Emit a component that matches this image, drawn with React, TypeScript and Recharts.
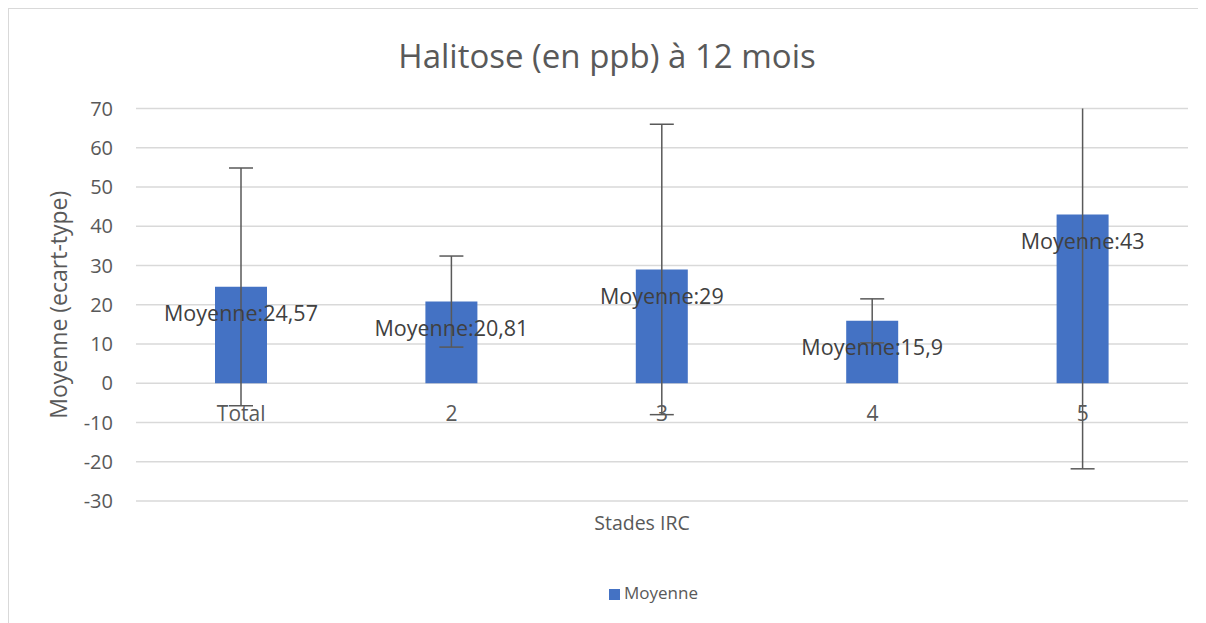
import React from "react";
import {
  BarChart,
  Bar,
  XAxis,
  YAxis,
  CartesianGrid,
  ErrorBar,
  LabelList,
  Legend,
} from "recharts";

// values
const stades = ["Total", "2", "3", "4", "5"];
const moyennes = [24.57, 20.81, 29, 15.9, 43];
const ecartTypes = [30.3, 11.6, 37, 5.6, 64.8];
const yTicks = [-30, -20, -10, 0, 10, 20, 30, 40, 50, 60, 70];

const Y_MIN = -30;
const Y_MAX = 70;
const W = 1196;
const H = 612;
const M = { top: 99.5, right: 17, left: 0, bottom: 30 };
const Y_AXIS_W = 127;
const X_AXIS_H = 60;
const LEGEND_H = 30;
const PLOT_H = H - M.top - M.bottom - X_AXIS_H - LEGEND_H;
const TEXT = "#595959";
const FONT = "'Open Sans', sans-serif";

const data = stades.map((name, i) => ({
  name,
  moyenne: moyennes[i],
  sd: ecartTypes[i],
}));

const fmt = (v: any) => `Moyenne:${String(v).replace(".", ",")}`;

// Excel puts the category labels next to the zero line, not at the bottom
const CategoryTick = (props: any) => {
  const { x, y, payload } = props;
  const zeroY = y - (PLOT_H * (0 - Y_MIN)) / (Y_MAX - Y_MIN);
  return (
    <text x={x} y={zeroY + 38} textAnchor="middle" fill={TEXT} fontSize={21}>
      {payload.value}
    </text>
  );
};

export default function App() {
  return (
    <div
      style={{
        position: "relative",
        width: W,
        height: 620,
        border: "1px solid #d9d9d9",
        fontFamily: FONT,
        background: "#fff",
      }}
    >
      {/* error bars are cut at the plot edge, as in Excel */}
      <style>{`.recharts-errorBar { clip-path: url(#plot-clip); }`}</style>
      <svg width={0} height={0} style={{ position: "absolute" }}>
        <defs>
          <clipPath id="plot-clip">
            <rect
              x={Y_AXIS_W}
              y={M.top}
              width={W - Y_AXIS_W - M.right}
              height={PLOT_H}
            />
          </clipPath>
        </defs>
      </svg>
      <div
        style={{
          position: "absolute",
          top: 24,
          left: 0,
          width: "100%",
          textAlign: "center",
          fontSize: 33,
          color: TEXT,
        }}
      >
        Halitose (en ppb) à 12 mois
      </div>
      <BarChart width={W} height={H} data={data} margin={M} barSize={52}>
        <CartesianGrid vertical={false} stroke="#d9d9d9" strokeWidth={1.5} />
        <XAxis
          dataKey="name"
          axisLine={false}
          tickLine={false}
          tickSize={0}
          tickMargin={0}
          height={X_AXIS_H}
          tick={<CategoryTick />}
          label={{
            value: "Stades IRC",
            position: "insideTop",
            offset: 15,
            dx: -20,
            fill: TEXT,
            fontSize: 19.5,
          }}
        />
        <YAxis
          width={Y_AXIS_W}
          domain={[Y_MIN, Y_MAX]}
          ticks={yTicks}
          allowDataOverflow
          axisLine={false}
          tickLine={false}
          tickSize={0}
          tickMargin={23}
          tick={{ fill: TEXT, fontSize: 20 }}
          label={{
            value: "Moyenne (ecart-type)",
            angle: -90,
            position: "center",
            dx: -14,
            fill: TEXT,
            fontSize: 23,
          }}
        />
        <Legend
          verticalAlign="bottom"
          height={LEGEND_H}
          iconType="square"
          iconSize={11}
          wrapperStyle={{ top: 572, left: 93, width: 1113 }}
          formatter={(v: any) => (
            <span style={{ color: TEXT, fontSize: 17 }}>{v}</span>
          )}
        />
        <Bar
          dataKey="moyenne"
          name="Moyenne"
          fill="#4472c4"
          isAnimationActive={false}
        >
          <ErrorBar
            dataKey="sd"
            width={12}
            stroke="#595959"
            strokeWidth={1.5}
            isAnimationActive={false}
          />
          <LabelList
            dataKey="moyenne"
            position="insideTop"
            offset={19}
            formatter={fmt}
            fill="#404040"
            fontSize={21.5}
          />
        </Bar>
      </BarChart>
    </div>
  );
}
